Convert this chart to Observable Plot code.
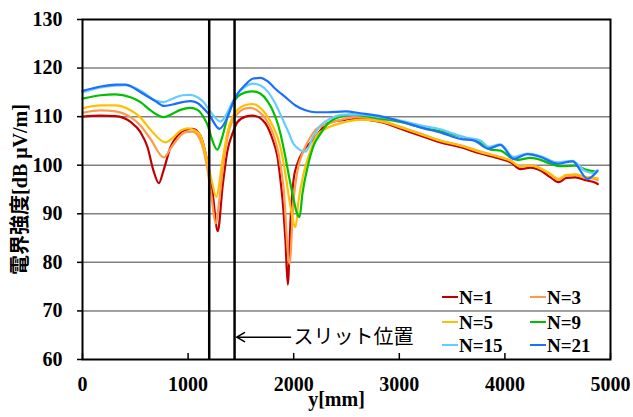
<!DOCTYPE html>
<html>
<head>
<meta charset="utf-8">
<script src="https://cdn.jsdelivr.net/npm/d3@7"></script>
<script src="https://cdn.jsdelivr.net/npm/@observablehq/plot@0.6"></script>
<style>
  html, body { margin: 0; padding: 0; background: white; }
</style>
</head>
<body>
<div id="chart"></div>
<script>
const seriesNames = ["N=1", "N=3", "N=5", "N=9", "N=15", "N=21"];
const seriesColors = ["#c00000", "#ff9a4d", "#ffc000", "#00c000", "#66ccff", "#1a6fff"];
const xTicks = [0, 1000, 2000, 3000, 4000, 5000];
const yTicks = [60, 70, 80, 90, 100, 110, 120, 130];
const gridValues = [70, 80, 90, 100, 110, 120];
const slitPositions = [1200, 1440];
const slitNote = [{from: 1970, to: 1460, level: 64.6, label: "スリット位置"}];
const xLabel = "y[mm]";
const yLabel = "電界強度[dB μV/m]";

const n1 = [[0,110.0],[170,110.2],[312,110.1],[455,108.9],[549,106.8],[616,103.7],[672,98.9],[723,96.3],[767,98.9],[833,103.7],[900,106.1],[975,107.3],[1042,107.5],[1117,106.1],[1174,101.6],[1231,94.5],[1281,86.4],[1326,95.5],[1373,103.0],[1420,106.5],[1468,108.9],[1544,110.0],[1610,110.2],[1667,109.9],[1733,108.6],[1799,105.4],[1847,101.6],[1875,96.9],[1903,90.7],[1922,84.5],[1944,75.4],[1970,88.6],[1998,96.9],[2036,100.4],[2093,103.0],[2159,104.7],[2216,106.1],[2317,108.6],[2491,109.4],[2538,109.6],[2822,108.9],[3011,107.5],[3201,106.1],[3390,104.7],[3580,103.7],[3769,102.4],[3958,101.3],[4053,100.6],[4148,99.2],[4242,99.5],[4337,98.9],[4432,97.5],[4508,96.5],[4583,97.4],[4669,97.5],[4763,96.9],[4858,96.4],[4880,96.1]];
const n3 = [[0,110.8],[170,111.3],[312,111.1],[455,109.9],[549,108.2],[644,105.4],[770,101.6],[833,103.4],[900,105.4],[975,106.8],[1042,106.9],[1117,105.1],[1174,100.3],[1222,93.5],[1260,88.0],[1297,93.0],[1326,98.9],[1373,105.8],[1420,109.2],[1468,110.6],[1544,111.7],[1591,111.8],[1667,111.1],[1733,109.6],[1799,106.8],[1856,102.4],[1903,95.5],[1960,79.7],[1998,92.7],[2036,98.9],[2093,103.0],[2159,105.8],[2216,107.5],[2320,108.5],[2491,109.6],[2633,109.9],[2822,109.3],[3011,107.9],[3201,106.5],[3390,105.1],[3580,104.1],[3769,102.8],[3958,101.7],[4053,101.0],[4148,99.7],[4242,100.0],[4337,99.4],[4432,98.1],[4508,97.0],[4583,97.9],[4669,98.0],[4763,97.4],[4858,97.1],[4880,96.9]];
const n5 = [[0,111.7],[170,112.3],[312,112.3],[455,111.3],[549,109.8],[644,107.3],[786,104.7],[852,105.6],[928,107.1],[994,107.6],[1051,107.3],[1117,106.1],[1174,101.6],[1222,97.0],[1266,93.5],[1326,101.0],[1373,106.8],[1420,109.9],[1468,111.4],[1544,112.4],[1610,112.6],[1667,112.1],[1733,110.6],[1799,108.2],[1875,103.7],[1922,98.2],[1960,92.7],[2017,87.3],[2046,92.7],[2093,98.2],[2159,103.0],[2216,106.1],[2320,107.7],[2491,108.9],[2633,109.4],[2822,109.0],[3011,107.8],[3201,106.4],[3390,105.0],[3580,104.0],[3769,102.7],[3958,101.6],[4053,100.9],[4148,99.7],[4242,99.9],[4337,99.3],[4432,98.2],[4508,97.2],[4583,98.0],[4669,98.1],[4763,97.6],[4858,97.4],[4880,97.3]];
const n9 = [[0,113.7],[170,114.4],[312,114.6],[455,114.0],[549,113.0],[644,111.3],[770,109.9],[852,110.6],[928,111.4],[1023,111.8],[1089,111.4],[1146,109.9],[1193,107.8],[1222,105.6],[1276,103.2],[1326,106.0],[1373,109.9],[1420,112.6],[1468,114.1],[1544,115.0],[1610,115.2],[1686,114.7],[1752,113.2],[1828,109.9],[1875,106.5],[1922,101.6],[1970,96.1],[2055,89.3],[2083,94.2],[2131,99.6],[2188,104.0],[2254,106.5],[2320,108.5],[2443,110.0],[2538,110.4],[2822,109.6],[3011,108.9],[3201,107.8],[3390,107.0],[3580,105.9],[3769,104.6],[3864,103.2],[3958,103.0],[4053,101.6],[4120,101.1],[4242,101.5],[4337,101.1],[4432,100.3],[4527,99.8],[4669,99.9],[4763,99.1],[4860,98.7]];
const n15 = [[0,115.0],[170,116.0],[312,116.4],[407,116.5],[502,115.9],[597,114.7],[691,113.3],[770,113.0],[852,113.7],[947,114.4],[1023,114.5],[1089,114.0],[1146,113.0],[1193,111.6],[1307,109.0],[1373,110.9],[1420,113.0],[1468,114.7],[1544,116.2],[1610,116.8],[1686,116.4],[1752,115.2],[1828,112.6],[1894,109.5],[1951,106.8],[1998,104.4],[2112,102.8],[2188,106.0],[2254,108.2],[2349,109.6],[2491,110.4],[2633,110.4],[2822,109.9],[3011,109.2],[3201,108.2],[3390,107.4],[3485,106.7],[3627,105.7],[3769,105.1],[3845,103.8],[3958,104.3],[4082,101.7],[4214,102.4],[4337,101.9],[4498,100.6],[4640,100.9],[4760,98.8],[4830,98.4],[4877,99.0]];
const n21 = [[0,115.3],[170,116.2],[312,116.6],[407,116.6],[502,115.7],[597,114.4],[691,113.2],[770,112.2],[852,112.5],[947,113.0],[1023,113.2],[1089,112.8],[1146,111.7],[1193,110.6],[1297,107.5],[1373,109.9],[1420,112.6],[1468,114.7],[1544,116.6],[1610,117.8],[1686,118.0],[1752,117.3],[1828,115.7],[1922,114.0],[2017,112.3],[2112,111.3],[2207,110.9],[2320,110.9],[2491,111.1],[2633,110.7],[2794,110.2],[2983,109.2],[3201,107.8],[3420,106.5],[3580,105.4],[3704,105.1],[3845,103.4],[3958,104.2],[4082,101.3],[4214,102.3],[4337,101.7],[4498,100.3],[4640,100.8],[4782,97.2],[4877,98.8]];

const seriesValues = [n1, n3, n5, n9, n15, n21];
const data = seriesValues.flatMap((pts, i) => pts.map(([x, v]) => ({series: seriesNames[i], x, v})));

const font = "'Liberation Serif', 'Noto Sans CJK JP', serif";

const chart = Plot.plot({
  width: 633,
  height: 417,
  marginLeft: 82,
  marginRight: 23,
  marginTop: 19,
  marginBottom: 58,
  style: {fontFamily: font, fontWeight: "bold", fontSize: "20px", color: "black", background: "white"},
  x: {domain: [0, 5000]},
  y: {domain: [60, 130]},
  color: {domain: seriesNames, range: seriesColors},
  marks: [
    Plot.ruleY(gridValues, {stroke: "#808080", strokeWidth: 1.5}),
    Plot.line(data, {x: "x", y: "v", z: "series", stroke: "series", strokeWidth: 2.2, curve: "monotone-x"}),
    Plot.ruleX(slitPositions, {stroke: "black", strokeWidth: 2.5}),
    Plot.frame({stroke: "black", strokeWidth: 2}),
    Plot.axisY({ticks: yTicks, tickSize: 5, tickPadding: 15, tickFormat: "d", label: null, fontSize: 20, strokeWidth: 1.5}),
    Plot.axisX({ticks: xTicks, tickSize: 0, tickPadding: 17, tickFormat: "d", label: null, fontSize: 20}),
    Plot.tickX(xTicks, {x: d => d, insetTop: 334, stroke: "black", strokeWidth: 1.5}),
    Plot.arrow(slitNote, {x1: "from", x2: "to", y1: "level", y2: "level", stroke: "black", strokeWidth: 1.5, headLength: 9}),
    Plot.text(slitNote, {x: "from", y: "level", text: "label", textAnchor: "start", dx: 3, fontSize: 20, fontWeight: "normal", fontFamily: "'Noto Sans CJK JP', sans-serif"}),
    Plot.text([yLabel], {frameAnchor: "left", textAnchor: "middle", dx: -62, rotate: -90, fontSize: 20, fontWeight: "bold"}),
    Plot.text([xLabel], {frameAnchor: "bottom", dy: 46, dx: -10, fontSize: 20, fontWeight: "bold"})
  ]
});

// legend drawn inside the plot frame (bottom-right)
const svg = d3.select(chart);
const right = 633 - 23, bottom = 417 - 58;
const colX = [-168, -80];
const rowY = [-62, -37, -14];
const lg = svg.append("g").attr("font-family", font).attr("font-weight", "bold").attr("font-size", 19).attr("text-anchor", "start");
seriesNames.forEach((name, i) => {
  const cx = right + colX[i % 2];
  const cy = bottom + rowY[Math.floor(i / 2)];
  lg.append("line").attr("x1", cx).attr("x2", cx + 16).attr("y1", cy).attr("y2", cy)
    .attr("stroke", seriesColors[i]).attr("stroke-width", 2);
  lg.append("text").attr("x", cx + 17).attr("y", cy).attr("dy", "0.35em").attr("text-anchor", "start").attr("fill", "black").text(name);
});

document.getElementById("chart").appendChild(chart);
</script>
</body>
</html>
